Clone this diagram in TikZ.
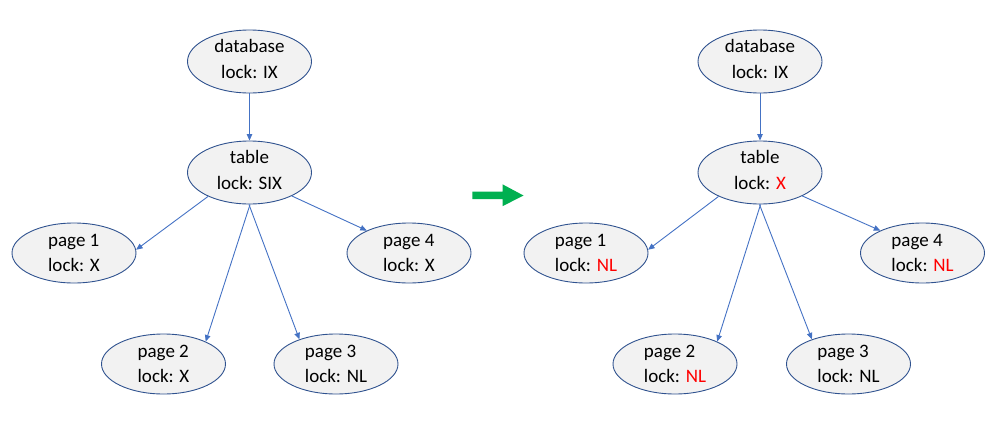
\documentclass[tikz,border=0pt]{standalone}
\usepackage{fontspec}
\setmainfont{Carlito}
\usetikzlibrary{shapes.geometric,arrows.meta}
\definecolor{edgeblue}{HTML}{4472C4}
\definecolor{rimblue}{HTML}{2F528F}
\definecolor{shade}{HTML}{F2F2F2}
\definecolor{goarrow}{HTML}{00B050}
\definecolor{redtxt}{HTML}{FF0000}
\newcommand{\rd}[1]{\textcolor{redtxt}{#1}}
\begin{document}
\begin{tikzpicture}[x=1pt,y=-1pt,
  lockbox/.style={ellipse,draw=rimblue,fill=shade,line width=0.9pt,
    minimum width=124pt,minimum height=63pt,inner sep=0pt,
    font=\fontsize{19}{25.5}\selectfont},
  topbox/.style={lockbox,align=center,text depth=5pt},
  pagebox/.style={lockbox,align=left,minimum height=60pt},
  link/.style={draw=edgeblue,line width=0.9pt,-{Triangle[length=6.5pt,width=5.5pt]}}]
\useasboundingbox (0,0) rectangle (1001,437);

% left tree
\node[topbox]  (dbL) at (249.5,61.5) {database\\lock: IX};
\node[topbox]  (tbL) at (249.5,172.5) {table\\lock: SIX};
\node[pagebox] (p1L) at (74,253) {page 1\\lock: X};
\node[pagebox] (p4L) at (409,253) {page 4\\lock: X};
\node[pagebox] (p2L) at (163.5,364) {page 2\\lock: X};
\node[pagebox] (p3L) at (336,364) {page 3\\lock: NL};

\draw[link] (dbL.270) -- (tbL.90);
\draw[link] (tbL.210) -- (p1L.3);
\draw[link] (tbL.271) -- (p2L.28);
\draw[link] (tbL.269) -- (p3L.146);
\draw[link] (tbL.331) -- (p4L.152);

% right tree
\node[topbox]  (dbR) at (760,61.5) {database\\lock: IX};
\node[topbox]  (tbR) at (760,172.5) {table\\lock: \rd{X}};
\node[pagebox] (p1R) at (586,253) {page 1\\lock: \rd{NL}};
\node[pagebox] (p4R) at (922.5,253) {page 4\\lock: \rd{NL}};
\node[pagebox] (p2R) at (675,364) {page 2\\lock: \rd{NL}};
\node[pagebox] (p3R) at (848.5,364) {page 3\\lock: NL};

\draw[link] (dbR.270) -- (tbR.90);
\draw[link] (tbR.210) -- (p1R.3);
\draw[link] (tbR.271) -- (p2R.28);
\draw[link] (tbR.269) -- (p3R.146);
\draw[link] (tbR.331) -- (p4R.152);

% green transition arrow
\fill[goarrow] (472.3,191.7) -- (502.5,191.7) -- (502.5,184.3) -- (523.5,195.5)
  -- (502.5,206.2) -- (502.5,199.2) -- (472.3,199.2) -- cycle;
\end{tikzpicture}
\end{document}
